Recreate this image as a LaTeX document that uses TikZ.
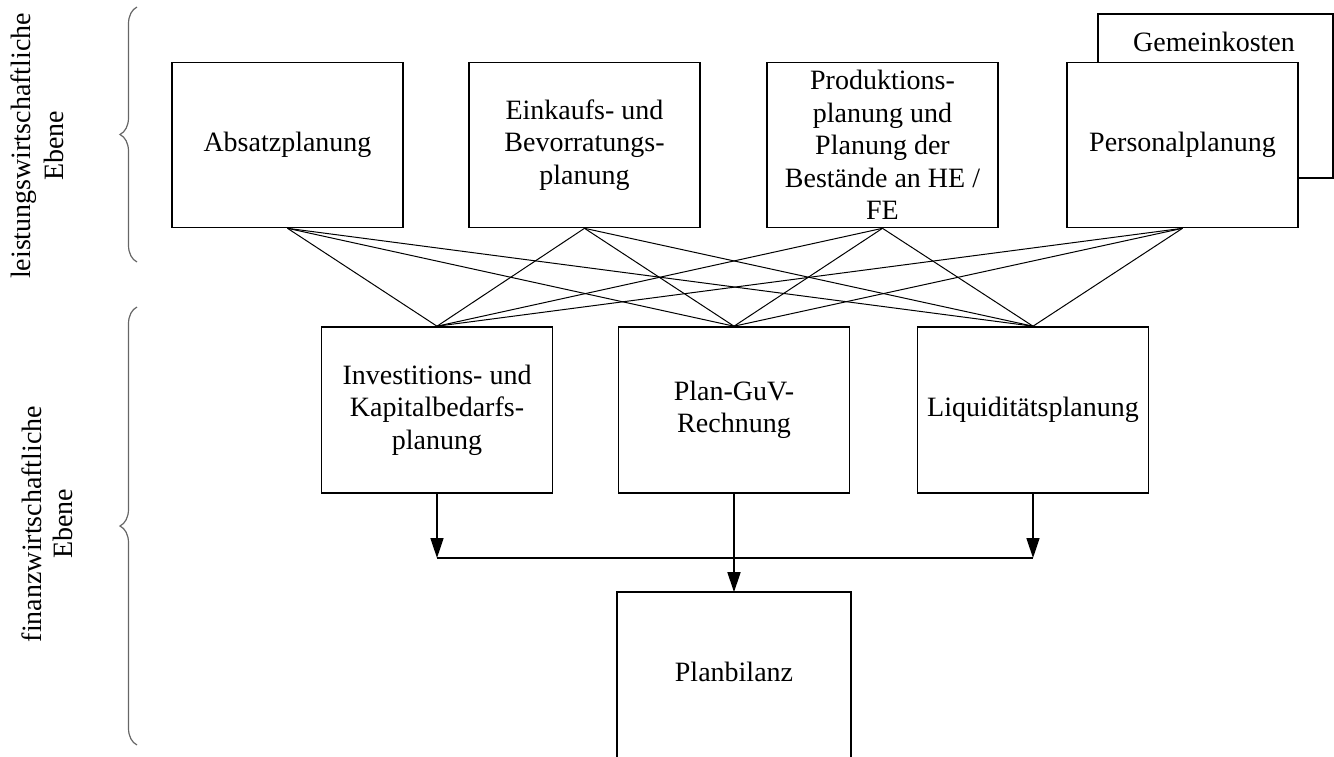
\documentclass[tikz,border=0pt]{standalone}
\usepackage{fontspec}
\setmainfont{Liberation Serif}
\usetikzlibrary{arrows.meta,decorations.pathreplacing}
\begin{document}
\begin{tikzpicture}[x=0.5pt,y=-0.5pt,
  txt/.style={font=\fontsize{14}{16.25}\selectfont},
  box/.style={txt, draw, line width=0.8pt, fill=white, align=center, inner sep=0pt},
  topbox/.style={box, minimum width=115.5pt, minimum height=82.5pt},
  midbox/.style={box, minimum width=115.5pt, minimum height=83pt},
  link/.style={line width=0.5pt},
  arr/.style={line width=0.8pt, -{Triangle[length=10pt,width=6.5pt]}},
  brc/.style={draw=black!60, line width=0.6pt, decorate, decoration={brace, amplitude=8.5pt}},
  lab/.style={txt, rotate=90, anchor=base}
]
\useasboundingbox (0,0) rectangle (1334,756);

% top level
\node[topbox] (abs) at (287.5,145) {Absatzplanung};
\node[topbox] (ein) at (584.5,145) {Einkaufs- und\\Bevorratungs-\\planung};
\node[topbox] (pro) at (882.5,145) {Produktions-\\planung und\\Planung der\\Bestände an HE /\\FE};
\node[box, minimum width=117.5pt, minimum height=82pt] (gk) at (1215.5,96) {};
\node[txt] (gkt) at (1214,42) {Gemeinkosten};
\node[topbox] (per) at (1182.5,145) {Personalplanung};

% middle level
\node[midbox] (inv) at (437,410) {Investitions- und\\Kapitalbedarfs-\\planung};
\node[midbox] (guv) at (734,410) {Plan-GuV-\\Rechnung};
\node[midbox] (liq) at (1033,410) {Liquiditätsplanung};

% bottom
\node[box, draw=none, minimum width=116pt, minimum height=79pt] (pb) at (734,672) {Planbilanz};
\draw[line width=0.8pt] ([yshift=-20pt]pb.south west) -- (pb.north west) -- (pb.north east) -- ([yshift=-20pt]pb.south east);

% links
\foreach \a in {abs,ein,pro,per}
  \foreach \b in {inv,guv,liq}
    \draw[link] (\a.south) -- (\b.north);

% arrows
\coordinate (jl) at (437,558);
\coordinate (jr) at (1033,558);
\draw[arr] (inv.south) -- (jl);
\draw[arr] (liq.south) -- (jr);
\draw[line width=0.8pt] (jl) -- (jr);
\draw[arr] (guv.south) -- (pb.north);

% braces
\draw[brc] (137,262) -- (137,7);
\draw[brc] (137,745) -- (137,307);

% side labels
\node[lab] (l1a) at (31,146) {leistungswirtschaftliche};
\node[lab] (l1b) at (63,146) {Ebene};
\node[lab] (l2a) at (41,524) {finanzwirtschaftliche};
\node[lab] (l2b) at (72,524) {Ebene};
\end{tikzpicture}
\end{document}
